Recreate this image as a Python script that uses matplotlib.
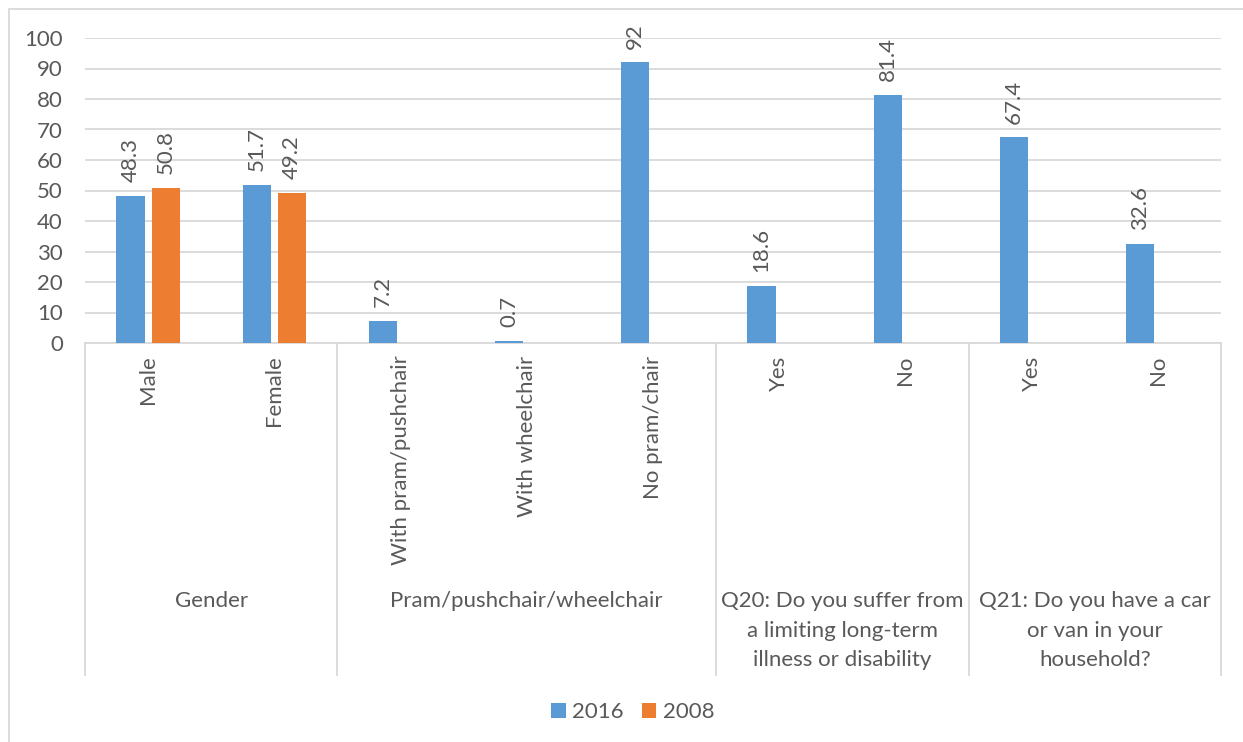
import numpy as np
import matplotlib
matplotlib.use("Agg")
import matplotlib.pyplot as plt
from matplotlib.patches import Rectangle

# data
categories = ["Male", "Female", "With pram/pushchair", "With wheelchair", "No pram/chair",
              "Yes", "No", "Yes", "No"]
groups = ["Gender", "Pram/pushchair/wheelchair",
          "Q20: Do you suffer from\na limiting long-term\nillness or disability",
          "Q21: Do you have a car\nor van in your\nhousehold?"]
group_sizes = [2, 3, 2, 2]
values_2016 = [48.3, 51.7, 7.2, 0.7, 92, 18.6, 81.4, 67.4, 32.6]
values_2008 = [50.8, 49.2, None, None, None, None, None, None, None]
series_names = ["2016", "2008"]

blue = "#5B9BD5"
orange = "#ED7D31"
text_col = "#595959"
grid_col = "#D9D9D9"
fs = 16

plt.rcParams["font.family"] = ["Lato", "DejaVu Sans"]

W, H = 1243, 742
fig = plt.figure(figsize=(W / 100, H / 100), dpi=100)
ax = fig.add_axes([85 / W, (H - 343) / H, (1221 - 85) / W, (343 - 38) / H])

x = np.arange(len(categories))
bw = 0.224
off = 0.14

v16 = np.array(values_2016, dtype=float)
v08 = np.array([np.nan if v is None else v for v in values_2008], dtype=float)

b1 = ax.bar(x - off, v16, bw, color=blue, label=series_names[0], zorder=3)
b2 = ax.bar(x + off, v08, bw, color=orange, label=series_names[1], zorder=3)

for xs, vals in [(x - off, v16), (x + off, v08)]:
    for xi, v in zip(xs, vals):
        if np.isnan(v):
            continue
        ax.annotate("{:g}".format(v), (xi, v), xytext=(0, 10), textcoords="offset points",
                    rotation=90, ha="center", va="bottom", fontsize=fs, color=text_col)

ax.set_xlim(-0.5, len(categories) - 0.5)
ax.set_ylim(0, 100)
ax.set_yticks(np.arange(0, 101, 10))
ax.yaxis.grid(True, color=grid_col, linewidth=1.3, zorder=0)
for s in ["top", "right", "left"]:
    ax.spines[s].set_visible(False)
ax.spines["bottom"].set_color(grid_col)
ax.spines["bottom"].set_linewidth(1.3)
ax.tick_params(axis="y", length=0, pad=16, labelsize=fs, labelcolor=text_col)
ax.set_xticks(x)
ax.set_xticklabels(categories, rotation=90, va="top", ha="center")
ax.tick_params(axis="x", length=0, pad=9, labelsize=fs, labelcolor=text_col)

# multi-level category axis: separators and group labels
ax_h = 343 - 38
y_low = -(675 - 343) / ax_h
y_grp = -(591 - 343) / ax_h
bounds = np.concatenate([[0], np.cumsum(group_sizes)]) - 0.5
tr = ax.get_xaxis_transform()
for b in bounds:
    ax.plot([b, b], [0, y_low], transform=tr, color=grid_col, linewidth=1.3, clip_on=False)
for g, lo, hi in zip(groups, bounds[:-1], bounds[1:]):
    ax.text((lo + hi) / 2, y_grp, g, transform=tr, ha="center", va="top",
            fontsize=fs, color=text_col, linespacing=1.6)

fig.legend(handles=[b1, b2], loc="center", bbox_to_anchor=(633 / W, 30 / H), ncol=2,
           frameon=False, handlelength=0.65, handleheight=0.65, handletextpad=0.3,
           columnspacing=0.8, fontsize=fs, labelcolor=text_col)

fig.add_artist(Rectangle((9 / W, -0.05), 1.0, 1 - 9 / H + 0.05, transform=fig.transFigure,
                         fill=False, edgecolor=grid_col, linewidth=1.3))

fig.savefig("out.png", dpi=100)
